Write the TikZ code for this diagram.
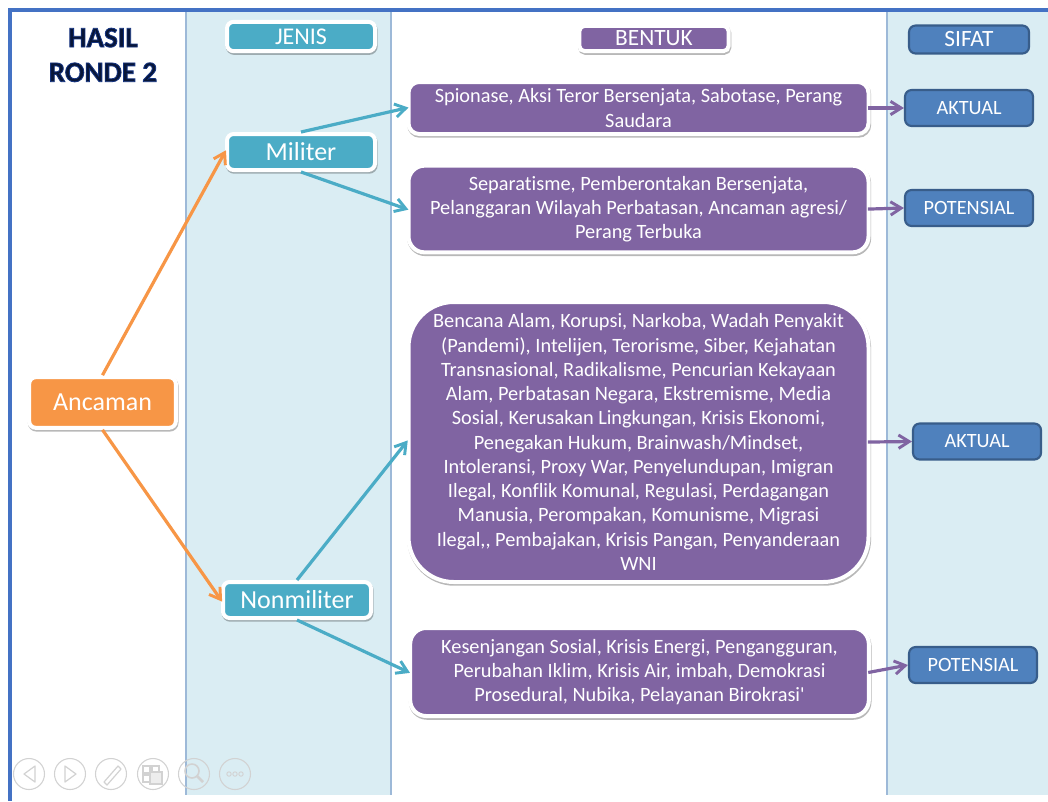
\documentclass[tikz,border=0pt]{standalone}
\usepackage{fontspec}
\setmainfont[Ligatures=NoCommon]{Carlito}
\newfontfamily\titlefont[FakeBold=3,Ligatures=NoCommon]{Carlito Bold}
\newfontfamily\plainfont[Ligatures=NoCommon]{Carlito}
\usetikzlibrary{arrows.meta,shadows}
\definecolor{band}{HTML}{DAEDF3}
\definecolor{bandline}{HTML}{9DB9D8}
\definecolor{frameblue}{HTML}{4472C4}
\definecolor{teal}{HTML}{4BACC6}
\definecolor{orng}{HTML}{F79646}
\definecolor{purp}{HTML}{8064A2}
\definecolor{blu}{HTML}{4F81BD}
\definecolor{bluedge}{HTML}{385D8A}
\definecolor{navy}{HTML}{081638}
\definecolor{icon}{HTML}{D2D2D2}
\tikzset{
  x=0.75pt,y=-0.75pt,
  softshadow/.style={drop shadow={shadow xshift=0.5pt,shadow yshift=-1.3pt,opacity=.28,fill=black,draw=black,line width=3pt}},
  whitebox/.style={draw=white,line width=3pt,rounded corners=#1,softshadow,text=white,align=center,inner sep=0pt,
    font=\fontsize{15.25}{18.2}\selectfont},
  tealbox/.style={whitebox=5pt,fill=teal,minimum width=111pt},
  purplebox/.style={whitebox=#1,fill=purp,minimum width=345pt},
  orangebox/.style={whitebox=5pt,fill=orng,minimum width=110pt,minimum height=38pt,font=\fontsize{19.5}{23}\selectfont},
  bluebox/.style={draw=bluedge,line width=1.6pt,rounded corners=5pt,fill=blu,text=white,inner sep=0pt,
    minimum width=96pt,minimum height=27pt,font=\fontsize{15.2}{18}\selectfont},
  conn/.style={line width=2.4pt,shorten >=-1.5pt,-{Straight Barb[length=8pt,width=10pt,line width=2.2pt]}},
  connout/.style={line width=2.4pt,shorten <=-2pt,-{Straight Barb[length=8pt,width=10pt,line width=2.2pt]}},
  iconcircle/.style={draw=icon,line width=0.8pt},
  iconline/.style={draw=icon,line width=0.9pt},
}
\newcommand{\lowered}[1]{\raisebox{-0.75pt}{#1}}
\begin{document}
\begin{tikzpicture}
\useasboundingbox (0,0) rectangle (1048,801);
\fill[white] (0,0) rectangle (1048,801);
% column bands
\fill[band] (186,12) rectangle (391,795);
\fill[band] (887,12) rectangle (1048,795);
\draw[bandline,line width=0.8pt] (186,12) -- (186,795);
\draw[bandline,line width=0.8pt] (391,12) -- (391,795);
\draw[bandline,line width=0.8pt] (887,12) -- (887,795);
% frame
\fill[frameblue] (8,8) rectangle (1048,12);
\fill[frameblue] (8,8) rectangle (12,801);
% title
\node[text=navy,align=center,font=\titlefont\fontsize{21.7}{26}\selectfont,inner sep=0pt] (title) at (103,55) {\special{pdf:code 0.08 0.2 0.5 RG}HASIL\\\special{pdf:code 0.08 0.2 0.5 RG}RONDE 2};
% nodes
\node[tealbox,minimum height=22pt,font=\fontsize{18}{21}\selectfont] (jenis) at (301,36.5) {\lowered{JENIS}};
\node[whitebox=4pt,fill=purp,minimum width=112pt,minimum height=19pt,font=\fontsize{17.5}{21}\selectfont] (bentuk) at (654,38.5) {BENTUK};
\node[bluebox,minimum width=90pt,minimum height=21pt,font=\fontsize{17.5}{21}\selectfont] (sifat) at (969,39.5) {\lowered{SIFAT}};
\node[orangebox] (anc) at (102.5,402.5) {\lowered{Ancaman}};
\node[tealbox,minimum height=27pt,font=\fontsize{19.5}{23}\selectfont] (mil) at (301,152) {\lowered{Militer}};
\node[tealbox,minimum height=27pt,font=\fontsize{19.5}{23}\selectfont] (non) at (297,600) {\lowered{Nonmiliter}};
\node[purplebox=8pt,minimum height=39pt] (p1) at (638.5,108) {Spionase, Aksi Teror Bersenjata, Sabotase, Perang\\Saudara};
\node[purplebox=12pt,minimum height=65pt] (p2) at (638.5,209) {Separatisme, Pemberontakan Bersenjata,\\Pelanggaran Wilayah Perbatasan, Ancaman agresi/\\Perang Terbuka};
\node[purplebox=34pt,minimum height=210pt] (p3) at (638.5,442) {Bencana Alam, Korupsi, Narkoba, Wadah Penyakit\\(Pandemi), Intelijen, Terorisme, Siber, Kejahatan\\Transnasional, Radikalisme, Pencurian Kekayaan\\Alam, Perbatasan Negara, Ekstremisme, Media\\Sosial, Kerusakan Lingkungan, Krisis Ekonomi,\\Penegakan Hukum, Brainwash/Mindset,\\Intoleransi, Proxy War, Penyelundupan, Imigran\\Ilegal, Konflik Komunal, Regulasi, Perdagangan\\Manusia, Perompakan, Komunisme, Migrasi\\Ilegal,{}, Pembajakan, Krisis Pangan, Penyanderaan\\WNI};
\node[purplebox=12pt,minimum width=344pt,minimum height=66pt] (p4) at (639.5,672) {Kesenjangan Sosial, Krisis Energi, Pengangguran,\\Perubahan Iklim, Krisis Air, imbah, Demokrasi\\Prosedural, Nubika, Pelayanan Birokrasi{\plainfont '}};
\node[bluebox] (s1) at (969,108) {AKTUAL};
\node[bluebox] (s2) at (969,208) {POTENSIAL};
\node[bluebox] (s3) at (977,441.5) {AKTUAL};
\node[bluebox] (s4) at (973,665) {POTENSIAL};
% connectors
\draw[conn,orng] (anc.north) -- (mil.west);
\draw[conn,orng] (anc.south) -- (non.west);
\draw[conn,teal] (mil.north) -- (p1.west);
\draw[conn,teal] (mil.south) -- (p2.west);
\draw[conn,teal] (non.north) -- (p3.west);
\draw[conn,teal] (non.south) -- (p4.west);
\draw[connout,purp] (p1.east) -- (s1.west);
\draw[connout,purp] (p2.east) -- (s2.west);
\draw[connout,purp] (p3.east) -- (s3.west);
\draw[connout,purp] (p4.east) -- (s4.west);
% presentation controls
\foreach \cx in {29,70,111,153,194,235} \draw[iconcircle] (\cx,774) circle[radius=15.5];
\draw[iconline,line join=round] (35,766) -- (24,774) -- (35,782) -- cycle;
\draw[iconline,line join=round] (65,766) -- (76,774) -- (65,782) -- cycle;
\draw[iconline,line join=round] (104,782) -- (118,766) -- (121,769) -- (107,785) -- cycle;
\draw[iconline] (143,766) rectangle (150,773);
\draw[iconline] (152,766) rectangle (159,773);
\draw[iconline] (143,775) rectangle (150,782);
\draw[iconline,line width=1.5pt,fill=icon!40] (150,772) rectangle (162,784);
\draw[iconline,line width=1.2pt] (192,771) circle[radius=7];
\draw[iconline,line width=2pt] (197,776) -- (203,782);
\foreach \dx in {229,235,241} \draw[iconline,line width=0.7pt] (\dx,774) circle[radius=2.2];
\end{tikzpicture}
\end{document}
